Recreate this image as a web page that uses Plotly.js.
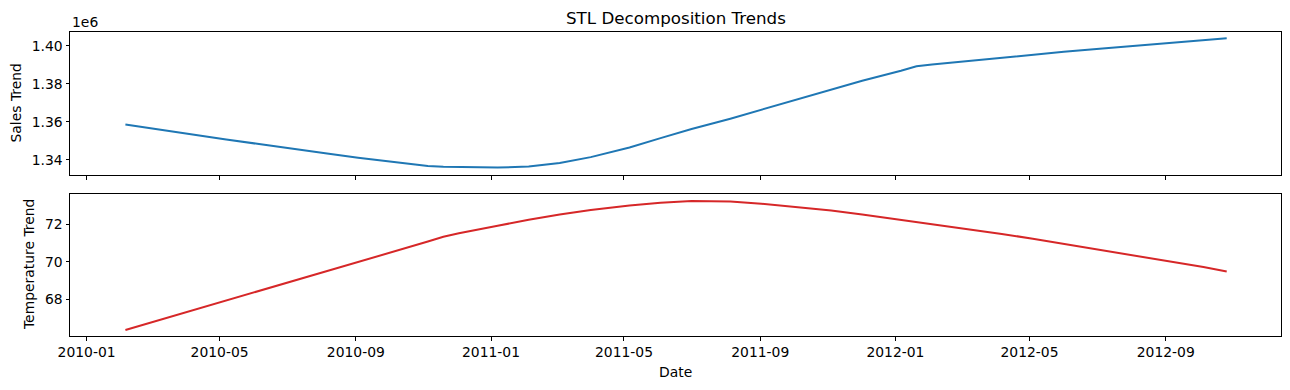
<!DOCTYPE html>
<html>
<head>
<meta charset="utf-8">
<script src="https://cdn.plot.ly/plotly-3.0.1.min.js"></script>
<style>html,body{margin:0;padding:0;background:#fff;}#chart{width:1290px;height:390px;}</style>
</head>
<body>
<div id="chart"></div>
<script>
const dates = ["2010-02-05","2010-03-05","2010-04-02","2010-05-07","2010-06-04","2010-07-02","2010-08-06","2010-09-03","2010-10-01","2010-11-05","2010-11-19","2010-12-03","2011-01-07","2011-02-04","2011-03-04","2011-04-01","2011-05-06","2011-06-03","2011-07-01","2011-08-05","2011-09-02","2011-10-07","2011-11-04","2011-12-02","2012-01-06","2012-01-20","2012-02-03","2012-03-02","2012-04-06","2012-05-04","2012-06-01","2012-07-06","2012-08-03","2012-09-07","2012-10-05","2012-10-26"];
const salesTrend = [1358700,1356200,1353700,1350800,1348500,1346100,1343400,1341200,1339100,1336800,1336400,1336200,1336000,1336600,1338400,1341500,1346600,1351500,1356300,1361700,1366500,1372200,1377200,1381700,1386900,1389300,1390200,1391800,1393800,1395500,1396900,1398600,1399900,1401500,1403000,1404000];
const tempTrend = [66.36,66.84,67.33,67.93,68.42,68.90,69.50,69.99,70.47,71.08,71.34,71.52,71.92,72.25,72.52,72.76,73.00,73.15,73.25,73.22,73.10,72.92,72.74,72.53,72.25,72.13,72.02,71.79,71.49,71.23,70.96,70.62,70.35,70.00,69.72,69.48];
const salesTicks = [1340000,1360000,1380000,1400000];
const salesTickText = ["1.34","1.36","1.38","1.40"];
const tempTicks = [68,70,72];

const W = 1290, H = 390;
const font = {family: "DejaVu Sans", size: 13.9, color: "#000"};
const xr = ["2009-12-17","2012-12-14"];
const axisCommon = {showline: true, mirror: true, linecolor: "#000", linewidth: 1, showgrid: false, zeroline: false, ticks: "outside", ticklen: 3.5, tickwidth: 1, tickcolor: "#000", automargin: false, tickfont: font};
const xd = [70/W, 1281/W];

const data = [
  {x: dates, y: salesTrend, type: "scatter", mode: "lines", line: {color: "#1f77b4", width: 2}, xaxis: "x", yaxis: "y", hoverinfo: "x+y"},
  {x: dates, y: tempTrend, type: "scatter", mode: "lines", line: {color: "#d62728", width: 2}, xaxis: "x2", yaxis: "y2", hoverinfo: "x+y"}
];

const layout = {
  width: W, height: H,
  margin: {l: 0, r: 0, t: 0, b: 0},
  paper_bgcolor: "#fff", plot_bgcolor: "#fff",
  showlegend: false,
  font: font,
  xaxis: Object.assign({}, axisCommon, {domain: xd, anchor: "y", type: "date", range: xr, tick0: "2010-01-01", dtick: "M4", showticklabels: false}),
  xaxis2: Object.assign({}, axisCommon, {domain: xd, anchor: "y2", type: "date", range: xr, tick0: "2010-01-01", dtick: "M4", tickformat: "%Y-%m"}),
  yaxis: Object.assign({}, axisCommon, {domain: [(H-175)/H, (H-32)/H], anchor: "x", range: [1332100, 1407300], tickmode: "array", tickvals: salesTicks, ticktext: salesTickText}),
  yaxis2: Object.assign({}, axisCommon, {domain: [(H-336)/H, (H-194)/H], anchor: "x2", range: [66.04, 73.62], tickmode: "array", tickvals: tempTicks, ticktext: tempTicks.map(String)}),
  annotations: [
    {text: "STL Decomposition Trends", xref: "paper", yref: "paper", x: 675.5/W, y: (H-18)/H, xanchor: "center", yanchor: "middle", showarrow: false, font: {family: "DejaVu Sans", size: 16.7, color: "#000"}},
    {text: "1e6", xref: "paper", yref: "paper", x: 70/W, y: (H-22)/H, xanchor: "left", yanchor: "middle", showarrow: false, font: font},
    {text: "Sales Trend", xref: "paper", yref: "paper", x: 16/W, y: (H-103.5)/H, xanchor: "center", yanchor: "middle", textangle: -90, showarrow: false, font: font},
    {text: "Temperature Trend", xref: "paper", yref: "paper", x: 29/W, y: (H-265)/H, xanchor: "center", yanchor: "middle", textangle: -90, showarrow: false, font: font},
    {text: "Date", xref: "paper", yref: "paper", x: 675.5/W, y: (H-372)/H, xanchor: "center", yanchor: "middle", showarrow: false, font: font}
  ]
};

Plotly.newPlot("chart", data, layout, {displayModeBar: false, staticPlot: true});
</script>
</body>
</html>
